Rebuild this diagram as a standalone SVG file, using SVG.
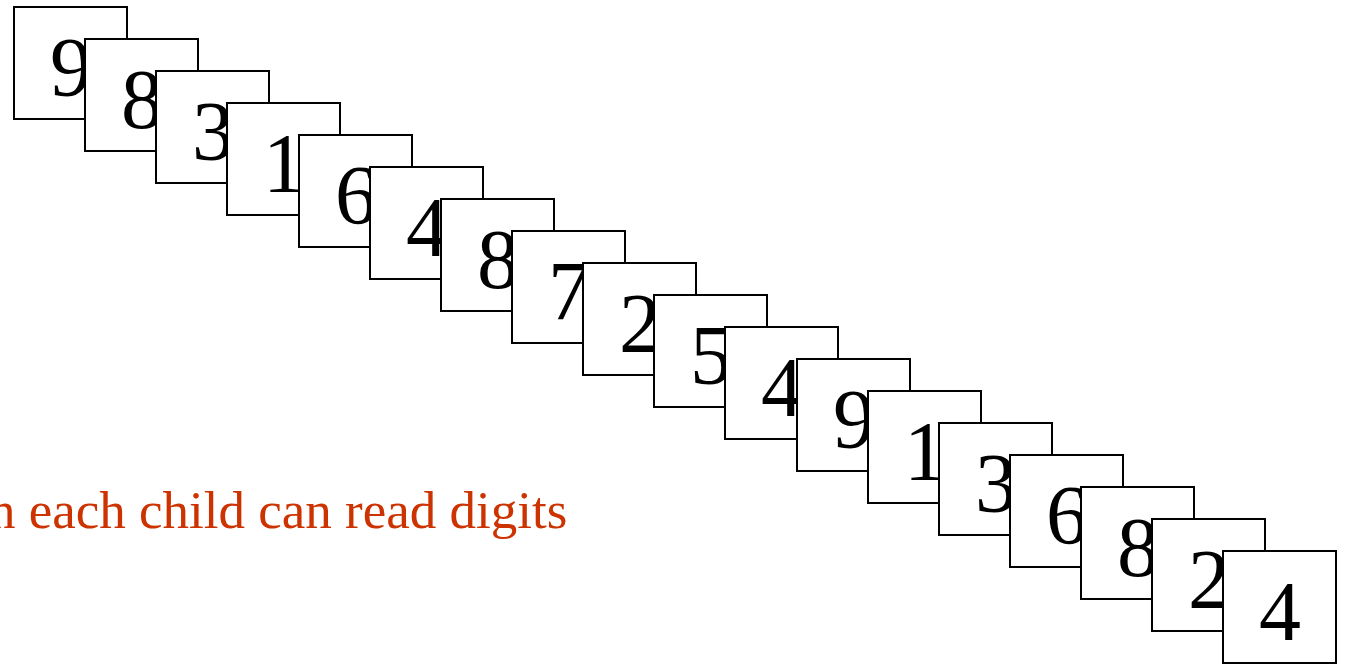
<svg xmlns="http://www.w3.org/2000/svg" width="1347" height="664" viewBox="0 0 1347 664">
  <style>
    .card rect { fill: #ffffff; stroke: #000000; stroke-width: 2; }
    .card text { font-family: "Liberation Serif", "Times New Roman", serif; font-size: 84px; fill: #000000; text-anchor: middle; }
    .caption { font-family: "Liberation Serif", "Times New Roman", serif; font-size: 53px; fill: #CC3300; }
  </style>
  <rect x="0" y="0" width="1347" height="664" fill="#ffffff"/>

  <!-- caption, partly running off the left edge -->
  <text class="caption" x="-11" y="528">n each child can read digits</text>

  <!-- stack of digit cards, each overlapping the previous one -->
  <g id="card-0" class="card"><rect x="14" y="7" width="113" height="112"/><text x="71" y="96">9</text></g>
  <g id="card-1" class="card"><rect x="85" y="39" width="113" height="112"/><text x="142" y="128">8</text></g>
  <g id="card-2" class="card"><rect x="156" y="71" width="113" height="112"/><text x="213" y="160">3</text></g>
  <g id="card-3" class="card"><rect x="227" y="103" width="113" height="112"/><text x="284" y="192">1</text></g>
  <g id="card-4" class="card"><rect x="299" y="135" width="113" height="112"/><text x="356" y="224">6</text></g>
  <g id="card-5" class="card"><rect x="370" y="167" width="113" height="112"/><text x="427" y="256">4</text></g>
  <g id="card-6" class="card"><rect x="441" y="199" width="113" height="112"/><text x="498" y="288">8</text></g>
  <g id="card-7" class="card"><rect x="512" y="231" width="113" height="112"/><text x="569" y="320">7</text></g>
  <g id="card-8" class="card"><rect x="583" y="263" width="113" height="112"/><text x="640" y="352">2</text></g>
  <g id="card-9" class="card"><rect x="654" y="295" width="113" height="112"/><text x="711" y="384">5</text></g>
  <g id="card-10" class="card"><rect x="725" y="327" width="113" height="112"/><text x="782" y="416">4</text></g>
  <g id="card-11" class="card"><rect x="797" y="359" width="113" height="112"/><text x="854" y="448">9</text></g>
  <g id="card-12" class="card"><rect x="868" y="391" width="113" height="112"/><text x="925" y="480">1</text></g>
  <g id="card-13" class="card"><rect x="939" y="423" width="113" height="112"/><text x="996" y="512">3</text></g>
  <g id="card-14" class="card"><rect x="1010" y="455" width="113" height="112"/><text x="1067" y="544">6</text></g>
  <g id="card-15" class="card"><rect x="1081" y="487" width="113" height="112"/><text x="1138" y="576">8</text></g>
  <g id="card-16" class="card"><rect x="1152" y="519" width="113" height="112"/><text x="1209" y="608">2</text></g>
  <g id="card-17" class="card"><rect x="1223" y="551" width="113" height="112"/><text x="1280" y="640">4</text></g>

  <g id="connectors"></g>
</svg>
